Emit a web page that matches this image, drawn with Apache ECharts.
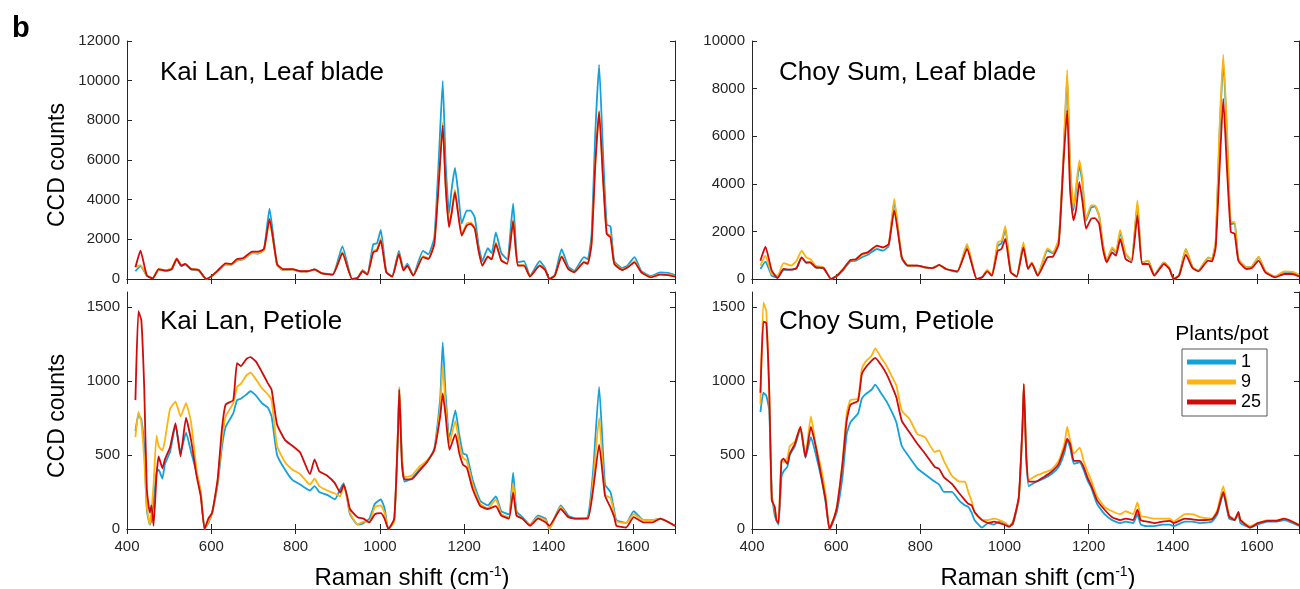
<!DOCTYPE html>
<html><head><meta charset="utf-8">
<script src="https://cdn.jsdelivr.net/npm/echarts@6/dist/echarts.min.js"></script>
<style>html,body{margin:0;padding:0;background:#fff}#c{width:1300px;height:589px}</style>
</head><body><div id="c"></div>
<script>
// ---------- data ----------
const xTicks = [400, 600, 800, 1000, 1200, 1400, 1600];
const seriesNames = ['1', '9', '25'];
const seriesColors = ['#13A0DB', '#FFB30F', '#D10A0A'];
const panelTitles = ['Kai Lan, Leaf blade', 'Choy Sum, Leaf blade', 'Kai Lan, Petiole', 'Choy Sum, Petiole'];

const leafX = [420,432,447,461,475,493,506,518,529,538,552,570,588,602,615,634,647,661,675,697,711,725,738,756,770,793,811,829,845,861,888,911,934,947,959,970,984,993,1002,1015,1029,1045,1056,1065,1079,1102,1115,1129,1140,1149,1156,1164,1170,1178,1185,1194,1206,1215,1225,1234,1243,1256,1265,1275,1288,1302,1316,1327,1342,1356,1379,1392,1402,1415,1431,1447,1461,1484,1493,1502,1511,1520,1529,1538,1547,1556,1575,1588,1604,1620,1643,1665,1684,1700];

const kaiLanLeaf1 = [400,650,170,50,450,420,480,1000,650,740,480,430,0,170,400,720,720,920,980,1300,1280,1480,3550,700,450,470,380,380,480,300,230,1650,0,50,450,250,1750,1800,2480,380,130,1420,480,780,180,1420,1250,2100,6200,9980,5800,3300,4500,5600,4500,2800,3450,3450,3100,1700,900,1550,1300,2350,1300,1000,3800,850,900,150,900,550,0,200,1500,620,420,1100,1000,2200,7400,10800,6500,2750,2650,900,550,700,1100,400,150,330,310,200];
const kaiLanLeaf9 = [620,700,200,40,480,450,540,1050,700,750,520,450,0,160,400,740,740,950,1000,1300,1300,1450,2950,720,460,480,390,390,480,300,220,1350,0,60,420,230,1400,1500,2050,350,120,1300,450,700,170,1150,1050,1800,5100,7900,4700,2700,3400,4500,3450,2250,2800,2850,2600,1450,700,1150,1000,1850,950,780,3000,700,700,120,700,480,0,170,1150,520,350,880,800,1800,5900,8500,5200,2300,2200,800,480,620,900,360,100,250,230,140];
const kaiLanLeaf25 = [590,1430,170,30,500,420,500,1010,670,760,500,455,0,170,420,790,760,1010,1045,1380,1380,1520,3030,760,500,500,390,390,490,300,220,1300,0,50,390,220,1350,1430,1940,340,120,1260,420,670,170,1100,1010,1770,4970,7750,4630,2610,3290,4380,3370,2190,2700,2780,2530,1430,670,1130,990,1770,930,760,2915,670,670,120,670,455,0,170,1130,500,340,840,760,1770,5810,8430,5140,2275,2100,760,455,590,840,340,85,220,200,120];

const choySumLeaf1 = [420,730,140,70,380,390,460,910,670,700,480,450,0,120,340,740,770,910,1020,1260,1190,1400,3230,860,560,560,490,460,580,410,300,1420,0,70,350,150,1400,1500,2100,290,100,1450,430,680,150,1200,1080,1650,5000,8500,4700,2880,3700,4770,4100,2450,3000,3050,2650,1450,760,1280,1100,1950,1050,780,3150,690,760,160,700,450,0,160,1250,500,350,900,840,1550,6000,9150,6000,2300,2350,830,500,520,920,320,100,300,290,170];
const choySumLeaf9 = [560,980,210,140,670,560,770,1190,910,840,560,490,0,140,380,780,820,1020,1100,1380,1320,1470,3370,900,580,560,490,460,580,420,320,1470,0,80,380,160,1540,1610,2220,300,110,1540,450,700,160,1290,1120,1700,5120,8780,4840,3020,3860,4980,4280,2530,3090,3090,2670,1470,770,1330,1150,2060,1080,800,3300,700,770,160,700,460,0,160,1260,500,350,910,850,1600,6250,9430,6250,2390,2390,850,500,520,940,330,100,320,300,180];
const choySumLeaf25 = [770,1360,350,40,420,390,460,910,700,700,490,460,0,140,380,800,830,1050,1120,1400,1330,1470,2880,910,560,560,490,460,590,420,320,1260,0,70,320,140,1190,1260,1680,280,100,1330,420,660,140,910,940,1470,4840,7090,3720,2460,2880,4070,3300,2110,2530,2560,2320,1260,700,1120,980,1680,840,700,2670,630,630,140,630,420,0,140,1020,460,320,770,740,1330,4560,7580,4560,1970,1900,770,420,460,770,280,70,210,210,110];

const petioleX = [420,427,434,441,447,454,458,463,470,475,484,490,502,515,527,540,552,565,575,584,593,602,615,625,634,652,661,670,684,693,706,720,734,743,756,775,793,811,834,845,856,875,893,906,914,922,929,947,961,975,988,1002,1011,1020,1034,1043,1046,1052,1058,1075,1093,1111,1129,1143,1149,1156,1165,1179,1188,1197,1206,1220,1238,1256,1275,1288,1306,1316,1324,1338,1356,1375,1393,1402,1429,1447,1465,1493,1506,1520,1534,1547,1556,1561,1584,1602,1625,1647,1665,1700];

const kaiLanPetiole1 = [660,770,740,550,130,30,60,180,380,400,340,440,520,700,520,650,520,380,240,0,40,110,300,550,690,780,870,880,910,930,900,850,820,760,500,400,330,300,260,290,250,230,200,270,310,210,100,30,40,70,170,200,140,0,60,640,950,500,320,340,400,450,540,880,1260,900,620,800,640,510,500,330,190,160,220,120,100,380,120,80,30,90,70,0,160,90,70,80,400,960,300,250,120,60,40,120,60,60,70,20];
const kaiLanPetiole9 = [620,790,720,460,150,30,120,300,630,560,530,600,810,860,760,850,720,400,250,0,50,110,320,600,760,850,960,980,1040,1055,1010,950,910,870,560,450,400,370,300,340,290,260,240,220,300,210,110,30,50,50,150,160,110,0,50,700,960,480,350,360,420,460,530,820,1100,820,580,730,580,480,460,300,170,140,200,100,80,310,100,70,30,80,60,0,150,80,70,70,330,750,230,210,100,50,40,100,60,60,70,20];
const kaiLanPetiole25 = [870,1470,1410,940,270,110,160,22,360,490,410,470,550,715,490,750,600,360,220,0,70,110,335,670,840,870,1120,1100,1150,1160,1130,1060,985,940,705,600,560,515,370,470,390,360,310,245,300,225,135,80,70,45,100,107,70,0,70,670,940,450,335,335,390,450,535,760,915,760,535,640,515,435,415,270,155,135,155,90,70,245,90,70,22,70,45,22,135,80,70,70,270,570,225,145,80,22,10,80,45,45,70,22];

const choySumPetiole1 = [790,920,900,800,250,90,60,30,350,390,420,500,560,680,480,620,500,340,180,0,50,120,350,640,720,780,880,910,940,975,920,860,780,720,560,480,410,370,320,300,250,250,190,160,150,110,60,10,40,30,50,40,20,30,200,700,960,460,290,320,340,370,420,520,600,550,440,450,400,330,280,170,100,60,40,50,40,100,30,20,20,30,30,20,50,50,40,50,100,240,70,60,100,40,10,30,50,50,60,20];
const choySumPetiole9 = [840,1530,1470,900,200,140,60,40,470,450,480,560,590,690,500,760,560,400,230,0,60,160,450,780,870,880,1080,1130,1170,1220,1160,1100,1020,970,800,740,640,620,520,530,460,360,320,320,250,190,110,60,60,70,60,40,20,50,200,700,970,500,330,360,380,400,460,580,690,600,510,550,460,390,330,220,150,120,100,120,100,180,90,80,70,70,70,50,100,100,80,70,130,290,90,70,110,60,20,40,60,60,70,30];
const choySumPetiole25 = [920,1400,1390,930,195,150,60,40,460,475,440,510,575,690,485,690,550,350,195,0,60,150,440,730,840,865,1045,1090,1135,1155,1110,1045,955,890,730,650,575,510,420,405,350,305,240,195,170,160,115,60,40,50,40,27,15,40,215,710,980,485,320,320,350,385,440,550,610,575,460,460,420,350,295,195,130,80,60,70,60,130,60,50,40,50,55,40,70,65,60,65,115,250,85,60,115,60,10,40,55,55,70,27];

// ---------- build ----------
const panels = [
  { x: leafX, ys: [kaiLanLeaf1, kaiLanLeaf9, kaiLanLeaf25], yMax: 12000, yInt: 2000 },
  { x: leafX, ys: [choySumLeaf1, choySumLeaf9, choySumLeaf25], yMax: 10000, yInt: 2000 },
  { x: petioleX, ys: [kaiLanPetiole1, kaiLanPetiole9, kaiLanPetiole25], yMax: 1600, yInt: 500 },
  { x: petioleX, ys: [choySumPetiole1, choySumPetiole9, choySumPetiole25], yMax: 1600, yInt: 500 }
];
const gridBoxes = [
  { left: 127, top: 41, width: 548, height: 238 },
  { left: 752, top: 41, width: 547, height: 238 },
  { left: 127, top: 292, width: 548, height: 237 },
  { left: 752, top: 292, width: 547, height: 237 }
];
const AX = '#262626';
const FONT = 'Liberation Sans, Arial, sans-serif';
const plain = v => String(v);

const grid = [], xAxis = [], yAxis = [], series = [];
panels.forEach((p, i) => {
  grid.push(Object.assign({ containLabel: false }, gridBoxes[i]));
  const common = { axisLine: { show: true, lineStyle: { color: AX, width: 1 } }, splitLine: { show: false } };
  xAxis.push(Object.assign({
    type: 'value', gridIndex: i, position: 'bottom', min: 400, max: 1700, interval: 200,
    axisTick: { inside: true, length: 5, lineStyle: { color: AX } },
    axisLabel: { show: i >= 2, margin: 10, fontSize: 15, color: AX, fontFamily: FONT, showMaxLabel: false, formatter: plain }
  }, common));
  xAxis.push(Object.assign({
    type: 'value', gridIndex: i, position: 'top', min: 400, max: 1700, interval: 200,
    axisTick: { inside: true, length: 5, lineStyle: { color: AX } },
    axisLabel: { show: false }
  }, common));
  yAxis.push(Object.assign({
    type: 'value', gridIndex: i, position: 'left', min: 0, max: p.yMax, interval: p.yInt,
    axisTick: { inside: true, length: 5, lineStyle: { color: AX } },
    axisLabel: { margin: 7, fontSize: 15, color: AX, fontFamily: FONT, showMaxLabel: p.yMax % p.yInt === 0, formatter: plain }
  }, common));
  yAxis.push(Object.assign({
    type: 'value', gridIndex: i, position: 'right', min: 0, max: p.yMax, interval: p.yInt,
    axisTick: { inside: true, length: 5, lineStyle: { color: AX } },
    axisLabel: { show: false }
  }, common));
  p.ys.forEach((ys, k) => {
    series.push({
      type: 'line', name: seriesNames[k], xAxisIndex: 2 * i, yAxisIndex: 2 * i,
      data: p.x.map((xv, j) => [xv, ys[j]]),
      showSymbol: false, symbol: 'none', smooth: 0.15, clip: true,
      lineStyle: { color: seriesColors[k], width: 1.8 }, itemStyle: { color: seriesColors[k] },
      z: 2 + k, animation: false
    });
  });
});

const supRich = {
  a: { fontSize: 24, fontWeight: 'normal', fontFamily: FONT, color: '#000' },
  s: { fontSize: 14, fontWeight: 'normal', fontFamily: FONT, color: '#000', padding: [0, 0, 12, 0] }
};
const tStyle = (fs, fw) => ({ fontSize: fs, fontWeight: fw || 'normal', fontFamily: FONT, color: '#000' });
const title = [
  { text: 'b', left: 12, top: 14, padding: 0, textStyle: tStyle(29, 'bold') },
  { text: panelTitles[0], left: 160, top: 60, padding: 0, textStyle: tStyle(26) },
  { text: panelTitles[1], left: 779, top: 60, padding: 0, textStyle: tStyle(26) },
  { text: panelTitles[2], left: 160, top: 309, padding: 0, textStyle: tStyle(26) },
  { text: panelTitles[3], left: 779, top: 309, padding: 0, textStyle: tStyle(26) },
  { text: '{a|Raman shift (cm}{s|-1}{a|)}', left: 412, top: 565, padding: 0, textAlign: 'center', textStyle: { fontWeight: 'normal', rich: supRich } },
  { text: '{a|Raman shift (cm}{s|-1}{a|)}', left: 1038, top: 565, padding: 0, textAlign: 'center', textStyle: { fontWeight: 'normal', rich: supRich } },
  { text: 'Plants/pot', left: 1222, top: 324, padding: 0, textAlign: 'center', textStyle: tStyle(21) }
];
const graphic = [
  { type: 'text', x: 58, y: 165, rotation: Math.PI / 2, style: { text: 'CCD counts', fontSize: 23, fontFamily: FONT, fill: '#000', align: 'center', verticalAlign: 'middle' } },
  { type: 'text', x: 58, y: 416, rotation: Math.PI / 2, style: { text: 'CCD counts', fontSize: 23, fontFamily: FONT, fill: '#000', align: 'center', verticalAlign: 'middle' } }
];

const chart = echarts.init(document.getElementById('c'), null, { renderer: 'canvas' });
chart.setOption({
  backgroundColor: '#fff',
  animation: false,
  title, graphic, grid, xAxis, yAxis, series,
  legend: {
    data: seriesNames, orient: 'vertical', left: 1182, top: 349,
    icon: 'rect', itemWidth: 49, itemHeight: 5, itemGap: 2,
    padding: [4, 6, 5, 5], borderColor: '#555', borderWidth: 1, backgroundColor: '#fff',
    textStyle: { fontSize: 18, fontFamily: FONT, color: '#000', lineHeight: 18 },
    selectedMode: false
  }
});
</script></body></html>
